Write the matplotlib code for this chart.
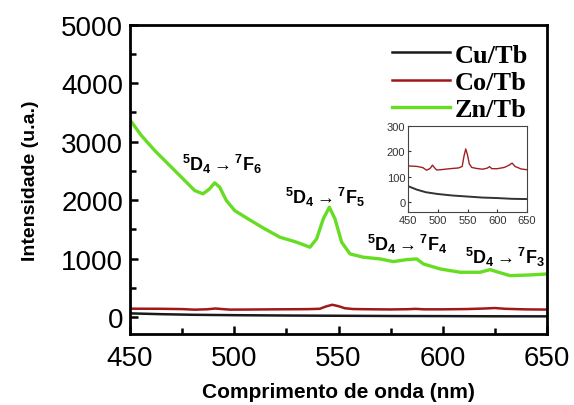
import matplotlib
matplotlib.use("Agg")
import matplotlib.pyplot as plt
import numpy as np

plt.rcParams['font.family'] = ['Liberation Sans', 'DejaVu Sans']
plt.rcParams['mathtext.fontset'] = 'custom'
plt.rcParams['mathtext.rm'] = 'Liberation Sans'
plt.rcParams['mathtext.bf'] = 'Liberation Sans:bold'
plt.rcParams['mathtext.it'] = 'Liberation Sans:italic'

# ---- data ----
zn_wl = [450, 455.4, 461.8, 468.2, 474.6, 481, 485, 488.2, 490.6, 493, 496.2, 500.2, 506.6,
         514, 521.9, 529.9, 536.3, 539.5, 542.7, 545.6, 548.3, 551.5, 555.5, 561.9, 569.9,
         576.3, 582.7, 587.5, 590.7, 598.7, 608.3, 617.9, 622.7, 626.7, 632.3, 641.9, 650]
zn_int = [3370, 3105, 2848, 2620, 2392, 2163, 2106, 2192, 2294, 2220, 1992, 1820, 1678,
          1520, 1364, 1279, 1193, 1336, 1678, 1878, 1678, 1279, 1079, 1022, 993,
          947, 981, 993, 907, 822, 765, 765, 810, 765, 707, 719, 736]

co_wl = [450, 465, 475, 481, 487, 491, 494, 498, 505, 520, 535, 541, 544, 547, 550, 553,
         557, 565, 575, 583, 587, 591, 600, 612, 620, 625, 630, 640, 650]
co_int = [142, 140, 135, 125, 132, 145, 136, 126, 127, 131, 134, 140, 180, 209, 185, 150,
          136, 132, 129, 133, 139, 131, 131, 136, 145, 153, 140, 130, 127]

cu_wl = [450, 465, 480, 500, 525, 550, 575, 600, 625, 650]
cu_int = [62, 48, 38, 31, 25, 21, 17, 15, 12, 11]

labels = ['Cu/Tb', 'Co/Tb', 'Zn/Tb']
colors = ['#1a1a1a', '#a01818', '#66dd22']

transitions = [r'$\mathbf{^5D_4 \rightarrow {}^7F_6}$', r'$\mathbf{^5D_4 \rightarrow {}^7F_5}$',
               r'$\mathbf{^5D_4 \rightarrow {}^7F_4}$', r'$\mathbf{^5D_4 \rightarrow {}^7F_3}$']
trans_pos = [(494, 2620), (543.5, 2055), (583, 1250), (630, 1027)]

fig = plt.figure(figsize=(5.74, 4.06), dpi=100)
ax = fig.add_axes([0.2265, 0.175, 0.7265, 0.762])

ax.plot(cu_wl, cu_int, color=colors[0], lw=1.8, label=labels[0])
ax.plot(co_wl, co_int, color=colors[1], lw=1.8, label=labels[1])
ax.plot(zn_wl, zn_int, color=colors[2], lw=2.4, label=labels[2], solid_joinstyle='round')

ax.set_xlim(450, 650)
ax.set_ylim(-290, 5000)
ax.set_xticks(np.arange(450, 651, 50))
ax.set_xticks(np.arange(475, 650, 50), minor=True)
ax.set_yticks(np.arange(0, 5001, 1000))
ax.set_yticks(np.arange(500, 5000, 1000), minor=True)
ax.tick_params(which='both', direction='in', width=1.8, labelsize=20)
ax.tick_params(axis='x', which='both', pad=8)
ax.tick_params(axis='y', which='both', pad=5)
ax.tick_params(which='major', length=6)
ax.tick_params(which='minor', length=4)
for s in ax.spines.values():
    s.set_linewidth(2)

ax.set_xlabel('Comprimento de onda (nm)', fontsize=15, fontweight='bold', labelpad=8)
ax.set_ylabel('Intensidade (u.a.)', fontsize=14, fontweight='bold', labelpad=16)

for t, (x, y) in zip(transitions, trans_pos):
    ax.text(x, y, t, fontsize=13, ha='center', va='center')

leg = ax.legend(loc='upper right', frameon=False, prop={'family': 'Liberation Serif', 'weight': 'bold', 'size': 19},
                handlelength=2.2, handletextpad=0.2, labelspacing=0.15, borderaxespad=0.3)

# inset
ins = fig.add_axes([0.711, 0.4754, 0.207, 0.212])
ins.plot(cu_wl, cu_int, color='#333333', lw=1.4)
ins.plot(co_wl, co_int, color='#a02020', lw=1.0)
ins.set_xlim(450, 650)
ins.set_ylim(-40, 300)
ins.set_xticks(np.arange(450, 651, 50))
ins.set_yticks([0, 100, 200, 300])
ins.tick_params(direction='in', length=2.5, width=0.8, labelsize=8, pad=2, colors='#333333')
for s in ins.spines.values():
    s.set_linewidth(0.8)
    s.set_color('#444444')

fig.savefig('out.png', dpi=100)
